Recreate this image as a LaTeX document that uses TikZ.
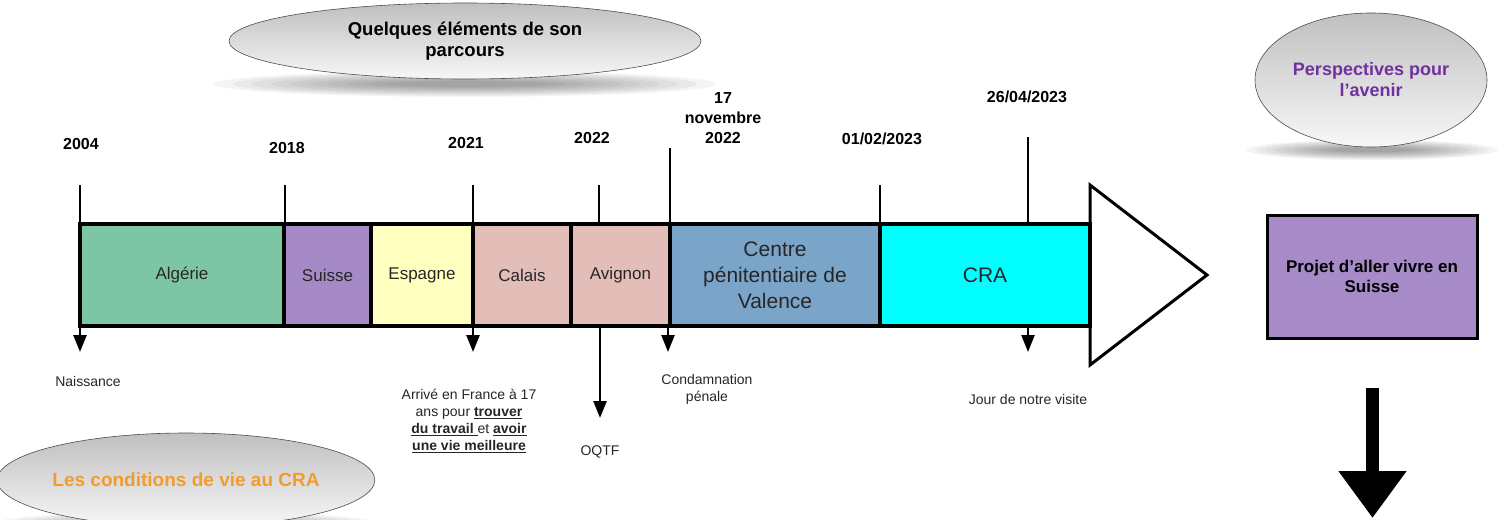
\documentclass[tikz,border=0pt]{standalone}
\usepackage{fontspec}
\setmainfont{Liberation Sans}
\usetikzlibrary{arrows.meta,shapes.geometric}
\definecolor{algc}{HTML}{7DC6A5}
\definecolor{suic}{HTML}{A68AC7}
\definecolor{espc}{HTML}{FFFFBF}
\definecolor{calc}{HTML}{E3BEB8}
\definecolor{cenc}{HTML}{7BA4C9}
\definecolor{crac}{HTML}{00FFFF}
\definecolor{projc}{HTML}{A78BC8}
\definecolor{purptxt}{HTML}{7030A0}
\definecolor{orgtxt}{HTML}{F39B2C}
\newcommand{\fsz}[2]{\fontsize{#1}{#2}\selectfont}
\newcommand{\softshadow}[4]{%
  \foreach \k in {1,...,10}{%
    \fill[black,opacity=0.045] (#1,#2) ellipse [x radius={#3*(1-\k*0.07)*1pt},y radius={#4*(1-\k*0.08)*1pt}];}}
\begin{document}
\begin{tikzpicture}[x=1pt,y=-1pt,
  seg/.style={draw=black,line width=4pt,minimum height=102pt,inner sep=0pt,
    font=\fsz{17}{20},align=center,text=black!85},
  bigseg/.style={seg,font=\fsz{21}{26}},
  tickline/.style={line width=2.5pt},
  darr/.style={line width=2.5pt,-{Triangle[width=13pt,length=17pt]}},
  yearlbl/.style={font=\bfseries\fsz{16}{20},align=center,inner sep=0pt},
  evlbl/.style={font=\fsz{14}{17},align=center,inner sep=0pt,text=black!85},
  bubble/.style={ellipse,draw=gray!60!black,line width=0.6pt,
    shading=axis,top color=gray!50,bottom color=gray!6,align=center,inner sep=0pt}
]
\useasboundingbox (0,0) rectangle (1498,519);

% soft shadows
\softshadow{465}{84}{270}{14}
\softshadow{1372}{150}{135}{11}
\softshadow{186}{523}{205}{12}

% bubbles
\node[bubble,minimum width=472pt,minimum height=76pt,font=\bfseries\fsz{18.5}{21}]
  (title) at (465,41) {Quelques éléments de son\\parcours};
\node[bubble,minimum width=232pt,minimum height=134pt,font=\bfseries\fsz{18}{21},text=purptxt]
  (persp) at (1371,80) {Perspectives pour\\l’avenir};
\node[bubble,minimum width=356pt,minimum height=94pt,font=\bfseries\fsz{19}{22},text=orgtxt]
  (cond) at (186,480) {Les conditions de vie au CRA};

% big arrow head of timeline
\draw[line width=3pt,fill=white,line join=miter] (1090,185) -- (1207,275) -- (1090,365) -- cycle;

% segments
\node[seg,fill=algc,minimum width=204pt] (alg) at (182,275) {Algérie};
\node[seg,fill=suic,minimum width=87pt] (sui) at (327.5,275) {Suisse};
\node[seg,fill=espc,minimum width=102pt] (esp) at (422,275) {Espagne};
\node[seg,fill=calc,minimum width=98pt] (cal) at (522,275) {Calais};
\node[seg,fill=calc,minimum width=99pt] (avi) at (620.5,275) {Avignon};
\node[bigseg,fill=cenc,minimum width=210pt] (cen) at (775,275) {Centre\\pénitentiaire de\\Valence};
\node[bigseg,fill=crac,minimum width=210pt] (cra) at (985,275) {CRA};

% tick coordinates
\coordinate (t2004) at (80,185);
\coordinate (t2018) at (285,185);
\coordinate (t2021) at (473,185);
\coordinate (t2022) at (599,185);
\coordinate (tnov) at (670,148);
\coordinate (t0102) at (880,185);
\coordinate (t2604) at (1028,137);
\foreach \t in {t2004,t2018,t2021,t2022,tnov,t0102,t2604}
  \draw[tickline] (\t) -- (\t |- alg.north);

% down arrows
\coordinate (aNai) at (80,352);
\coordinate (aArr) at (473,352);
\coordinate (aOq) at (600,418);
\coordinate (aCon) at (668,352);
\coordinate (aJour) at (1028,352);
\foreach \a in {aNai,aArr,aOq,aCon,aJour}
  \draw[darr] (\a |- alg.south) -- (\a);

% year labels
\node[yearlbl] (y2004) at (81,144) {2004};
\node[yearlbl] (y2018) at (287,148) {2018};
\node[yearlbl] (y2021) at (466,143) {2021};
\node[yearlbl] (y2022) at (592,138) {2022};
\node[yearlbl] (ynov) at (723,118) {17\\novembre\\2022};
\node[yearlbl] (y0102) at (882,139) {01/02/2023};
\node[yearlbl] (y2604) at (1027,97) {26/04/2023};

% event labels
\node[evlbl] (lNai) at (88,381) {Naissance};
\node[evlbl] (lArr) at (469,421) {Arrivé en France à 17\\ans pour \underline{\textbf{trouver}}\\\underline{\textbf{du travail }}et \underline{\textbf{avoir}}\\\underline{\textbf{une vie meilleure}}};
\node[evlbl] (lOq) at (600,452) {OQTF};
\node[evlbl] (lCon) at (707,389) {Condamnation\\pénale};
\node[evlbl] (lJour) at (1028,399) {Jour de notre visite};

% perspectives
\node[draw=black,line width=3pt,fill=projc,minimum width=210pt,minimum height=123pt,
  align=center,font=\bfseries\fsz{17}{20},inner sep=0pt] (proj) at (1372,276.5)
  {Projet d’aller vivre en\\Suisse};
\coordinate (bigA) at (1372.5,388);
\coordinate (bigB) at (1372.5,518);
\draw[line width=13pt,-{Triangle[width=65pt,length=47pt]}] (bigA) -- (bigB);
\end{tikzpicture}
\end{document}
